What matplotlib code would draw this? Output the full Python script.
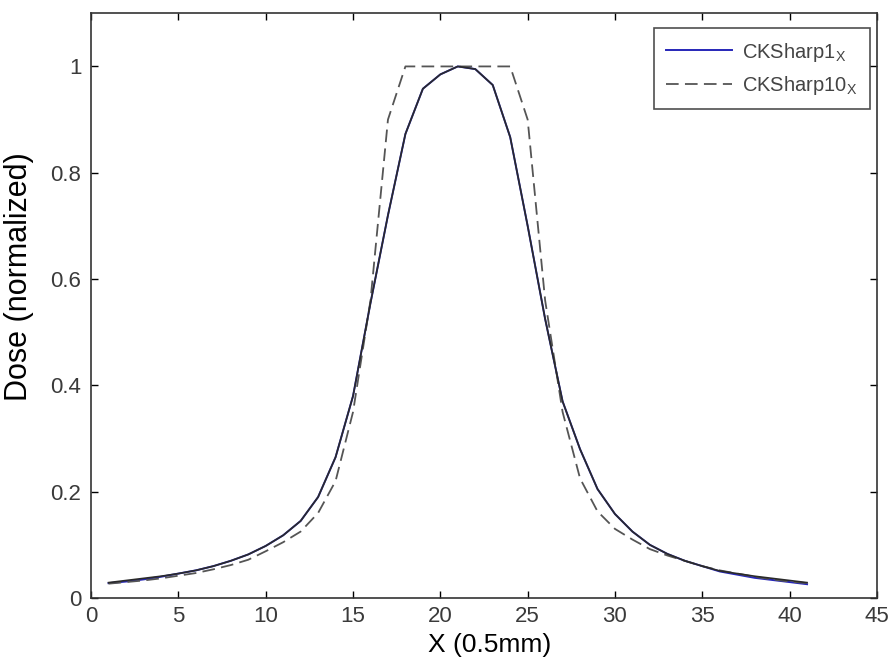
import matplotlib
matplotlib.use("Agg")
import matplotlib.pyplot as plt

# Posicoes (amostras de 0.5 mm)
x = list(range(1, 42))

# CKSharp1_X (linha azul)
dose_sharp1 = [0.028, 0.031, 0.035, 0.040, 0.046, 0.052, 0.060, 0.070, 0.082, 0.098,
               0.118, 0.145, 0.190, 0.265, 0.380, 0.555, 0.720, 0.873, 0.958, 0.985,
               1.000, 0.995, 0.965, 0.867, 0.700, 0.525, 0.370, 0.280, 0.205, 0.158,
               0.125, 0.100, 0.083, 0.070, 0.060, 0.050, 0.044, 0.038, 0.034, 0.030,
               0.026]

# curva preta sobreposta (quase igual a CKSharp1_X)
dose_black = [0.029, 0.033, 0.037, 0.041, 0.046, 0.052, 0.060, 0.070, 0.082, 0.098,
              0.118, 0.145, 0.190, 0.265, 0.380, 0.555, 0.720, 0.873, 0.958, 0.985,
              1.000, 0.995, 0.965, 0.867, 0.700, 0.525, 0.370, 0.280, 0.205, 0.158,
              0.125, 0.100, 0.083, 0.070, 0.060, 0.051, 0.046, 0.041, 0.037, 0.033,
              0.029]

# CKSharp10_X (linha tracejada)
dose_sharp10 = [0.027, 0.030, 0.033, 0.037, 0.042, 0.047, 0.054, 0.062, 0.072, 0.088,
                0.105, 0.125, 0.160, 0.220, 0.350, 0.560, 0.900, 1.000, 1.000, 1.000,
                1.000, 1.000, 1.000, 1.000, 0.900, 0.560, 0.350, 0.225, 0.163, 0.130,
                0.110, 0.092, 0.080, 0.070, 0.060, 0.052, 0.046, 0.040, 0.035, 0.031,
                0.028]

xticks = list(range(0, 50, 5))
yticks = [0, 0.2, 0.4, 0.6, 0.8, 1]
ytick_labels = ["0", "0.2", "0.4", "0.6", "0.8", "1"]


def main():
    plt.rcParams["font.family"] = ["Liberation Sans", "DejaVu Sans"]
    plt.rcParams["mathtext.fontset"] = "custom"
    plt.rcParams["mathtext.rm"] = "Liberation Sans"

    fig = plt.figure(figsize=(8.93, 6.63), dpi=100)
    ax = fig.add_axes([0.102, 0.098, 0.880, 0.882])

    ax.plot(x, dose_sharp1, color="#2626b8", lw=1.4, label=r"CKSharp1$_\mathregular{X}$")
    ax.plot(x, dose_sharp10, color="#555555", lw=1.3, ls=(0, (7, 3.5)),
            label=r"CKSharp10$_\mathregular{X}$")
    ax.plot(x, dose_black, color="#2a2a2a", lw=1.2)

    ax.set_xlim(0, 45)
    ax.set_ylim(0, 1.1)
    ax.set_xticks(xticks)
    ax.set_yticks(yticks)
    ax.set_yticklabels(ytick_labels)

    for lab in ax.get_xticklabels() + ax.get_yticklabels():
        lab.set_fontsize(16)
        lab.set_color("#3a3a3a")

    ax.tick_params(direction="in", top=True, right=True, length=5, width=1)
    ax.tick_params(axis="y", pad=7)
    ax.tick_params(axis="x", pad=6)
    for s in ax.spines.values():
        s.set_linewidth(1.2)
        s.set_color("#333333")

    ax.set_xlabel("X (0.5mm)", fontsize=19)
    ax.set_ylabel("Dose (normalized)", fontsize=22)
    ax.xaxis.set_label_coords(0.507, -0.06)
    ax.yaxis.set_label_coords(-0.073, 0.55)

    leg = ax.legend(loc="upper right", bbox_to_anchor=(0.991, 0.974), borderaxespad=0,
                    fontsize=14.5, handlelength=3.3, handletextpad=0.5, frameon=True,
                    fancybox=False, edgecolor="#222222", labelspacing=0.5,
                    borderpad=0.6)
    leg.get_frame().set_linewidth(1.2)
    for t in leg.get_texts():
        t.set_color("#444444")

    fig.savefig("out.png", dpi=100)


if __name__ == "__main__":
    main()
